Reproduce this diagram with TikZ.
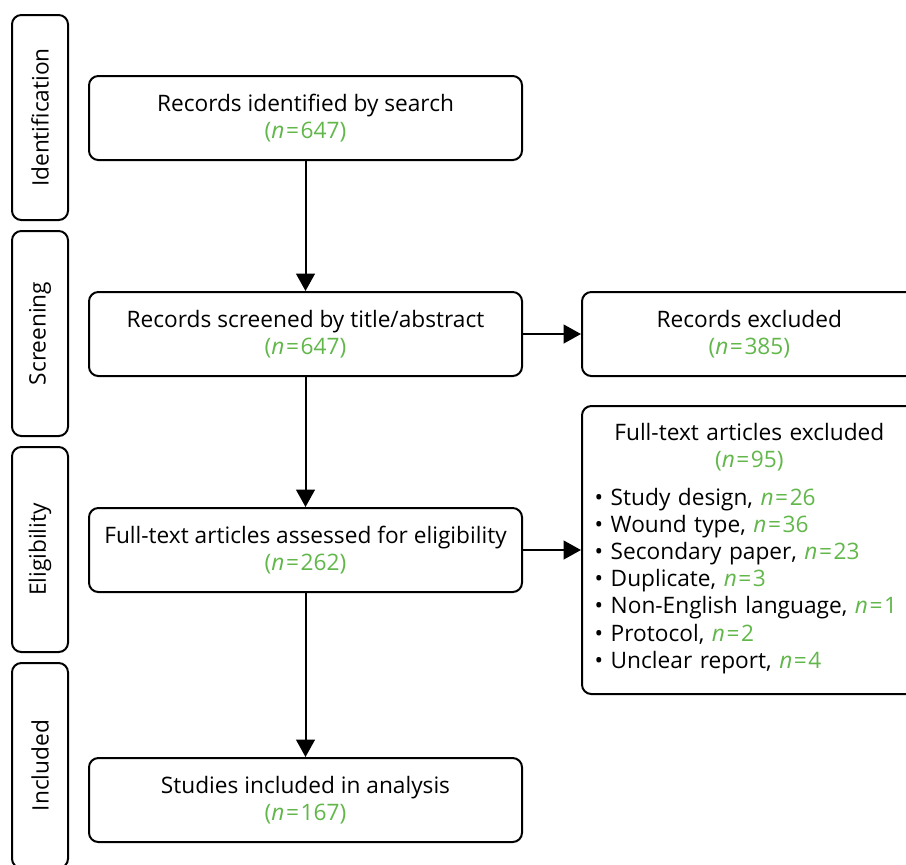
\documentclass[tikz,border=0pt]{standalone}
\usepackage{fontspec}
\setmainfont{Open Sans}
\usepackage{tikz}
\usetikzlibrary{arrows.meta, positioning}
\definecolor{CountGreen}{RGB}{98,183,75}
\newcommand{\nval}[1]{{\color{CountGreen}(\textit{n}\kern1.2pt=\kern1.2pt#1)}}
\newcommand{\nitem}[1]{{\color{CountGreen}\textit{n}\kern1.2pt=\kern1.2pt#1}}

\begin{document}
\begin{tikzpicture}[x=0.75pt, y=-0.75pt,
  font=\fontsize{17}{20.4}\selectfont,
  stagebox/.style={draw, line width=1.5pt, rounded corners=7pt, rotate=90,
    minimum width=153.75pt, minimum height=42pt, inner sep=0pt},
  flowbox/.style={draw, line width=1.5pt, rounded corners=7pt,
    minimum width=324.75pt, minimum height=63pt, align=center, inner sep=0pt},
  exbox/.style={flowbox, minimum width=251pt},
  flow/.style={line width=1.5pt, -{Triangle[length=13pt,width=14pt]}}]
\useasboundingbox (0,0) rectangle (906,864);
\clip (0,0) rectangle (906,864);

% stages
\node[stagebox] (ident) at (40,117.5) {Identification};
\node[stagebox] (screen) at (40,333.5) {Screening};
\node[stagebox] (elig) at (40,549.5) {Eligibility};
\node[stagebox] (incl) at (40,765.5) {Included};

% main column
\node[flowbox] (search) at (305.5,118) {Records identified by search\\ \nval{647}};
\node[flowbox, below=97.5pt of search] (screened) {Records screened by title/abstract\\ \nval{647}};
\node[flowbox, below=97.5pt of screened] (fulltext) {Full-text articles assessed for eligibility\\ \nval{262}};
\node[flowbox, below=123pt of fulltext] (included) {Studies included in analysis\\ \nval{167}};

% exclusions
\node[exbox, right=43.5pt of screened] (excl) {Records excluded\\ \nval{385}};
\node[exbox, right=43.5pt of fulltext, minimum height=216pt, text width=232pt, align=left] (ftexcl)
  {\centering Full-text articles excluded\\ \nval{95}\par\vspace{10pt}\raggedright
   \begin{tabular}{@{}l@{}}
   \textbullet~Study design, \nitem{26}\\
   \textbullet~Wound type, \nitem{36}\\
   \textbullet~Secondary paper, \nitem{23}\\
   \textbullet~Duplicate, \nitem{3}\\
   \textbullet~Non-English language, \nitem{1}\\
   \textbullet~Protocol, \nitem{2}\\
   \textbullet~Unclear report, \nitem{4}
   \end{tabular}};

\draw[flow] (search) -- (screened);
\draw[flow] (screened) -- (fulltext);
\draw[flow] (fulltext) -- (included);
\draw[flow] (screened) -- (excl);
\draw[flow] (fulltext) -- (ftexcl);
\end{tikzpicture}
\end{document}
